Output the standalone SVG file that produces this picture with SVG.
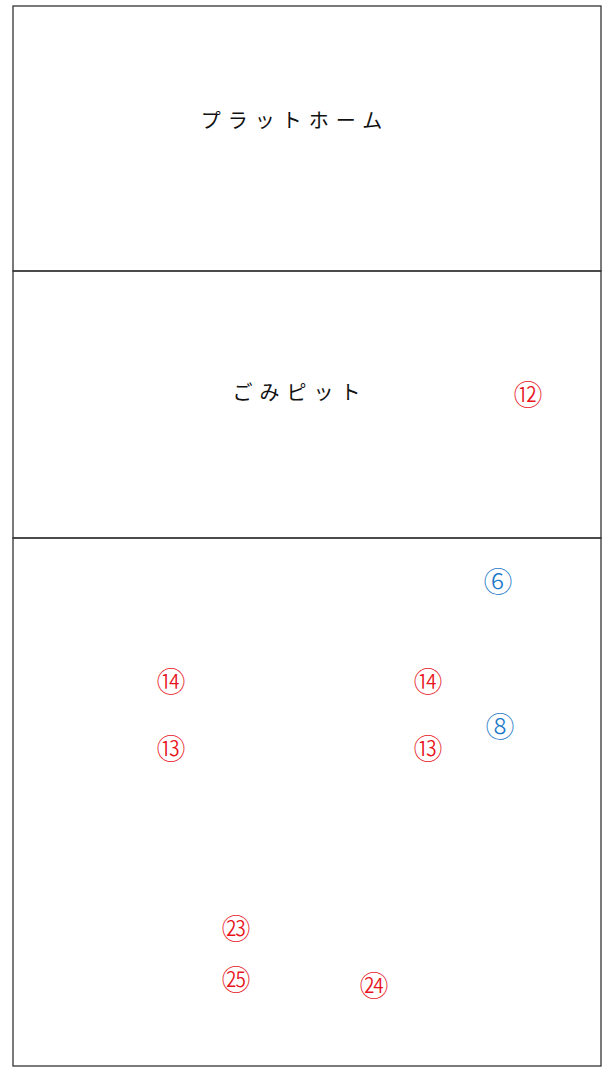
<svg xmlns="http://www.w3.org/2000/svg" width="604" height="1068" viewBox="0 0 604 1068">
<style>
.box{fill:none;stroke:#333;stroke-width:1.3}
.lbl{font-family:"Noto Sans CJK JP",sans-serif;font-size:20px;letter-spacing:7px;fill:#111;text-anchor:middle;dominant-baseline:central}
.num{font-family:"Noto Sans CJK JP",sans-serif;font-size:29px;text-anchor:middle;dominant-baseline:central;font-weight:300}
.r{fill:#e8141c}
.b{fill:#1a78c8}
</style>
<rect width="604" height="1068" fill="#fff"/>
<g id="platform">
<rect class="box" x="13" y="6" width="588" height="265"/>
<text class="lbl" x="295" y="119">プラットホーム</text>
</g>
<g id="pit">
<rect class="box" x="13" y="271" width="588" height="267"/>
<text class="lbl" x="300" y="391">ごみピット</text>
<text class="num r" x="528" y="393">⑫</text>
</g>
<g id="lower">
<rect class="box" x="13" y="538" width="588" height="528"/>
<text class="num b" x="498" y="580">⑥</text>
<text class="num r" x="171" y="680">⑭</text>
<text class="num r" x="428" y="680">⑭</text>
<text class="num b" x="500" y="725">⑧</text>
<text class="num r" x="171" y="747">⑬</text>
<text class="num r" x="428" y="747">⑬</text>
<text class="num r" x="236" y="927">㉓</text>
<text class="num r" x="236" y="978">㉕</text>
<text class="num r" x="374" y="984">㉔</text>
</g>
<g id="connectors"></g>
</svg>
